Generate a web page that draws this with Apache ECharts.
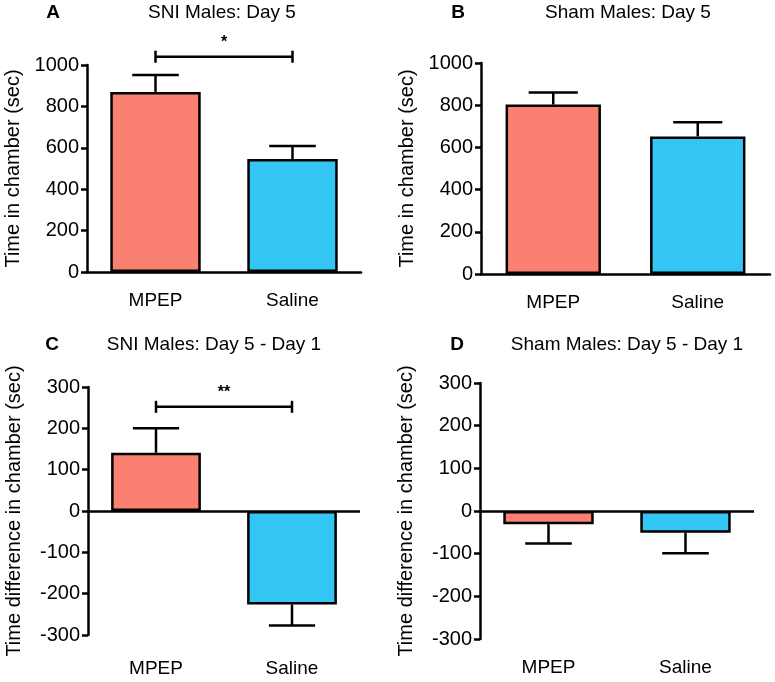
<!DOCTYPE html>
<html>
<head>
<meta charset="utf-8">
<script src="https://cdn.jsdelivr.net/npm/echarts@6/dist/echarts.min.js"></script>
<style>html,body{margin:0;padding:0;background:#fff}#c{width:775px;height:682px}</style>
</head>
<body>
<div id="c"></div>
<script>
// ---- data ----
const categories = ['MPEP', 'Saline'];
const sniDay5 = [870, 546];
const sniDay5Err = [82, 63];
const shamDay5 = [803, 652];
const shamDay5Err = [57, 67];
const sniDiff = [141, -226];
const sniDiffErr = [59, 51];
const shamDiff = [-31, -51];
const shamDiffErr = [45, 48];
const ticksDay5 = [0, 200, 400, 600, 800, 1000];
const ticksDiff = [-300, -200, -100, 0, 100, 200, 300];
const sigA = { from: 0, to: 1, y: 1040, label: '*' };
const sigC = { from: 0, to: 1, y: 252, label: '**' };

const FONT = '"Liberation Sans", Arial, Helvetica, sans-serif';
const barColors = ['#FA8072', '#33C5F3'];

const chart = echarts.init(document.getElementById('c'), null, { renderer: 'canvas' });

const grids = [
  { left: 87, top: 65, width: 274, height: 207 },
  { left: 481, top: 63, width: 289, height: 211 },
  { left: 88, top: 387, width: 272, height: 248 },
  { left: 480, top: 383, width: 274, height: 256 }
];

const panels = [
  { vals: sniDay5, err: sniDay5Err, ticks: ticksDay5, name: 'Time in chamber (sec)', labelMargin: 19, sig: sigA },
  { vals: shamDay5, err: shamDay5Err, ticks: ticksDay5, name: 'Time in chamber (sec)', labelMargin: 19 },
  { vals: sniDiff, err: sniDiffErr, ticks: ticksDiff, name: 'Time difference in chamber (sec)', labelMargin: 24, sig: sigC },
  { vals: shamDiff, err: shamDiffErr, ticks: ticksDiff, name: 'Time difference in chamber (sec)', labelMargin: 19 }
];

const xAxes = [], yAxes = [], series = [];
panels.forEach((p, i) => {
  const min = p.ticks[0], max = p.ticks[p.ticks.length - 1];
  xAxes.push({
    type: 'category', gridIndex: i, data: categories,
    axisLine: { show: min >= 0, onZero: false, lineStyle: { color: '#000', width: 2.5 } },
    axisTick: { show: false },
    axisLabel: { color: '#000', fontSize: 19, fontFamily: FONT, margin: p.labelMargin }
  });
  yAxes.push({
    type: 'value', gridIndex: i, min: min, max: max, interval: p.ticks[1] - p.ticks[0],
    name: p.name, nameLocation: 'middle', nameGap: 64, nameRotate: 90,
    nameTextStyle: { color: '#000', fontSize: 20, fontFamily: FONT },
    axisLine: { show: true, lineStyle: { color: '#000', width: 2.5 } },
    axisTick: { show: true, length: 6, lineStyle: { color: '#000', width: 2.5 } },
    axisLabel: { color: '#000', fontSize: 20, fontFamily: FONT, margin: 8, formatter: v => String(v) },
    splitLine: { show: false }
  });
  const bar = {
    type: 'bar', xAxisIndex: i, yAxisIndex: i, barWidth: '66%',
    data: p.vals.map((v, k) => ({ value: v, itemStyle: { color: barColors[k] } })),
    itemStyle: { borderColor: '#000', borderWidth: 2.5 },
    silent: true, z: 2
  };
  if (min < 0) {
    bar.markLine = {
      silent: true, symbol: 'none', label: { show: false },
      lineStyle: { color: '#000', width: 2.5, type: 'solid' },
      data: [{ yAxis: 0 }], z: 3
    };
  }
  series.push(bar);
  series.push({
    type: 'custom', xAxisIndex: i, yAxisIndex: i, silent: true, z: 4,
    data: p.vals.map((v, k) => [k, v, v + Math.sign(v) * p.err[k]]),
    renderItem: (params, api) => {
      const a = api.coord([api.value(0), api.value(1)]);
      const b = api.coord([api.value(0), api.value(2)]);
      const half = api.size([1, 0])[0] * 0.17;
      const st = { stroke: '#000', lineWidth: 2.5 };
      return { type: 'group', children: [
        { type: 'line', shape: { x1: a[0], y1: a[1], x2: b[0], y2: b[1] }, style: st },
        { type: 'line', shape: { x1: b[0] - half, y1: b[1], x2: b[0] + half, y2: b[1] }, style: st }
      ] };
    }
  });
  if (p.sig) {
    series.push({
      type: 'custom', xAxisIndex: i, yAxisIndex: i, silent: true, z: 4, clip: false,
      data: [[p.sig.from, p.sig.to, p.sig.y]],
      renderItem: (params, api) => {
        const a = api.coord([api.value(0), api.value(2)]);
        const b = api.coord([api.value(1), api.value(2)]);
        const st = { stroke: '#000', lineWidth: 2.5 };
        return { type: 'group', children: [
          { type: 'line', shape: { x1: a[0], y1: a[1], x2: b[0], y2: b[1] }, style: st },
          { type: 'line', shape: { x1: a[0], y1: a[1] - 6, x2: a[0], y2: a[1] + 6 }, style: st },
          { type: 'line', shape: { x1: b[0], y1: b[1] - 6, x2: b[0], y2: b[1] + 6 }, style: st },
          { type: 'text', style: { text: p.sig.label, x: (a[0] + b[0]) / 2, y: a[1] - 6, align: 'center', verticalAlign: 'bottom', fill: '#000', font: 'bold 16px ' + FONT } }
        ] };
      }
    });
  }
});

const titleStyle = { color: '#000', fontSize: 19, fontWeight: 'normal', fontFamily: FONT };
const letterStyle = { color: '#000', fontSize: 19, fontWeight: 'bold', fontFamily: FONT };
const titles = [
  { text: 'A', left: 53, top: 13, textStyle: letterStyle },
  { text: 'SNI Males: Day 5', left: 222, top: 13, textStyle: titleStyle },
  { text: 'B', left: 458, top: 13, textStyle: letterStyle },
  { text: 'Sham Males: Day 5', left: 628, top: 13, textStyle: titleStyle },
  { text: 'C', left: 52, top: 345, textStyle: letterStyle },
  { text: 'SNI Males: Day 5 - Day 1', left: 214, top: 345, textStyle: titleStyle },
  { text: 'D', left: 457, top: 345, textStyle: letterStyle },
  { text: 'Sham Males: Day 5 - Day 1', left: 627, top: 345, textStyle: titleStyle }
].map(t => Object.assign({ padding: 0, textAlign: 'center', textVerticalAlign: 'middle' }, t));

chart.setOption({
  animation: false,
  backgroundColor: '#fff',
  title: titles,
  grid: grids,
  xAxis: xAxes,
  yAxis: yAxes,
  series: series
});
</script>
</body>
</html>
